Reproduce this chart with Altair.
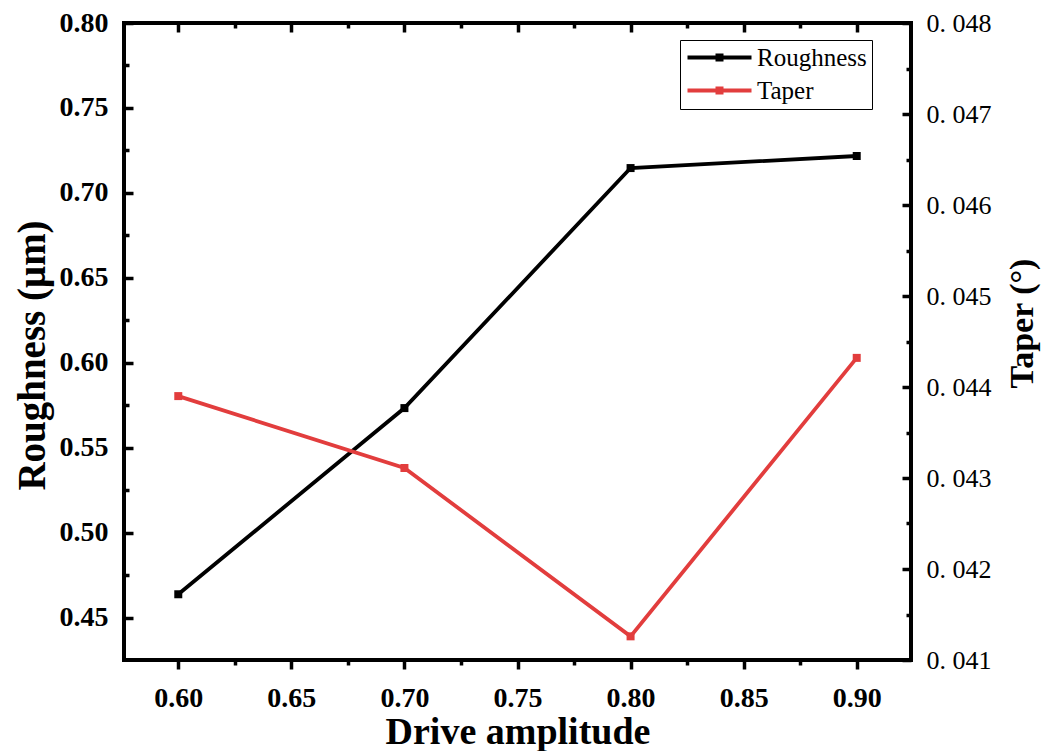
import altair as alt
import pandas as pd

# ---- data ----
amplitude = [0.60, 0.70, 0.80, 0.90]
roughness = [0.4637, 0.5733, 0.7146, 0.7217]
taper = [0.04390, 0.04311, 0.04126, 0.04432]
series = ["Roughness", "Taper"]
colors = ["#000000", "#e23d3d"]

x_major = [0.60, 0.65, 0.70, 0.75, 0.80, 0.85, 0.90]
x_minor = [0.625, 0.675, 0.725, 0.775, 0.825, 0.875]
yl_major = [0.45, 0.50, 0.55, 0.60, 0.65, 0.70, 0.75, 0.80]
yl_minor = [0.475, 0.525, 0.575, 0.625, 0.675, 0.725, 0.775]
yr_major = [0.041, 0.042, 0.043, 0.044, 0.045, 0.046, 0.047, 0.048]
yr_minor = [0.0415, 0.0425, 0.0435, 0.0445, 0.0455, 0.0465, 0.0475]

df_r = pd.DataFrame({"amp": amplitude, "val": roughness, "series": series[0]})
df_t = pd.DataFrame({"amp": amplitude, "val": taper, "series": series[1]})

FONT = "Liberation Serif"
xs = alt.Scale(domain=[0.576, 0.924], nice=False, zero=False)
ysl = alt.Scale(domain=[0.425, 0.80], nice=False, zero=False)
ysr = alt.Scale(domain=[0.041, 0.048], nice=False, zero=False)

MAJ, MIN, TW = 9, 5, 3.5

def bare(orient, values, size, offset):
    return alt.Axis(orient=orient, values=values, labels=False, title=None,
                    tickSize=size, offset=offset, domain=False, grid=False,
                    tickColor="black", tickWidth=TW)

legend_path = "M-1,0H5.4M2,-0.2H2.4V0.2H2Z"
legend = alt.Legend(title=None, orient="none", legendX=556, legendY=17,
                    symbolType=legend_path, symbolSize=400, symbolStrokeWidth=4,
                    labelFont=FONT, labelFontSize=25, labelColor="black",
                    labelOffset=47, labelLimit=0, padding=5, rowPadding=7,
                    strokeColor="black", fillColor="white")

color = alt.Color("series:N", scale=alt.Scale(domain=series, range=colors), legend=legend)

# roughness line: bottom + left axes with labels
l_rough = alt.Chart(df_r).mark_line(strokeWidth=3.8).encode(
    x=alt.X("amp:Q", scale=xs, axis=alt.Axis(
        orient="bottom", values=x_major, format=".2f", tickSize=MAJ, domain=False, grid=False,
        tickColor="black", tickWidth=TW, labelPadding=15,
        labelFont=FONT, labelFontSize=28, labelFontWeight="bold", labelColor="black",
        title="Drive amplitude", titleFont=FONT, titleFontSize=38, titleFontWeight="bold",
        titleColor="black", titlePadding=1)),
    y=alt.Y("val:Q", scale=ysl, axis=alt.Axis(
        orient="left", values=yl_major, format=".2f", tickSize=MAJ, offset=-MAJ,
        domain=False, grid=False, tickColor="black", tickWidth=TW, labelPadding=16,
        labelFont=FONT, labelFontSize=28, labelFontWeight="bold", labelColor="black",
        title="Roughness (μm)", titleFont=FONT, titleFontSize=39, titleFontWeight="bold",
        titleColor="black", titlePadding=7, titleY=332)),
    color=color,
)
p_rough = alt.Chart(df_r).mark_square(size=64, opacity=1, color=colors[0]).encode(
    x=alt.X("amp:Q", scale=xs, axis=None),
    y=alt.Y("val:Q", scale=ysl, axis=None),
)

# taper line: top + right axes
l_taper = alt.Chart(df_t).mark_line(strokeWidth=3.8).encode(
    x=alt.X("amp:Q", scale=xs, axis=bare("top", x_major, MAJ, -MAJ)),
    y=alt.Y("val:Q", scale=ysr, axis=alt.Axis(
        orient="right", values=yr_major, tickSize=MAJ, offset=-MAJ,
        labelExpr="replace(format(datum.value, '.3f'), '.', '. ')",
        domain=False, grid=False, tickColor="black", tickWidth=TW, labelPadding=15,
        labelFont=FONT, labelFontSize=26, labelColor="black",
        title="Taper (°)", titleFont=FONT, titleFontSize=34, titleFontWeight="bold",
        titleColor="black", titleAngle=270, titleBaseline="top", titlePadding=14,
        titleY=300)),
    color=color,
)
p_taper = alt.Chart(df_t).mark_square(size=64, opacity=1, color=colors[1]).encode(
    x=alt.X("amp:Q", scale=xs, axis=None),
    y=alt.Y("val:Q", scale=ysr, axis=None),
)

# minor tick axes (invisible marks)
m1 = alt.Chart(df_r).mark_point(opacity=0).encode(
    x=alt.X("amp:Q", scale=xs, axis=bare("bottom", x_minor, MIN, 0)),
    y=alt.Y("val:Q", scale=ysl, axis=bare("left", yl_minor, MIN, -MIN)),
)
m2 = alt.Chart(df_t).mark_point(opacity=0).encode(
    x=alt.X("amp:Q", scale=xs, axis=bare("top", x_minor, MIN, -MIN)),
    y=alt.Y("val:Q", scale=ysr, axis=bare("right", yr_minor, MIN, -MIN)),
)

chart = alt.layer(l_rough, p_rough, l_taper, p_taper, m1, m2).resolve_scale(
    x="independent", y="independent", color="shared"
).properties(
    width=787, height=637,
    autosize=alt.AutoSizeParams(type="none"),
    padding={"left": 124, "top": 23, "right": 136, "bottom": 91},
    background="white",
).configure_view(stroke="black", strokeWidth=4)

chart.save("out.html", embed_options={"renderer": "svg", "actions": False})
